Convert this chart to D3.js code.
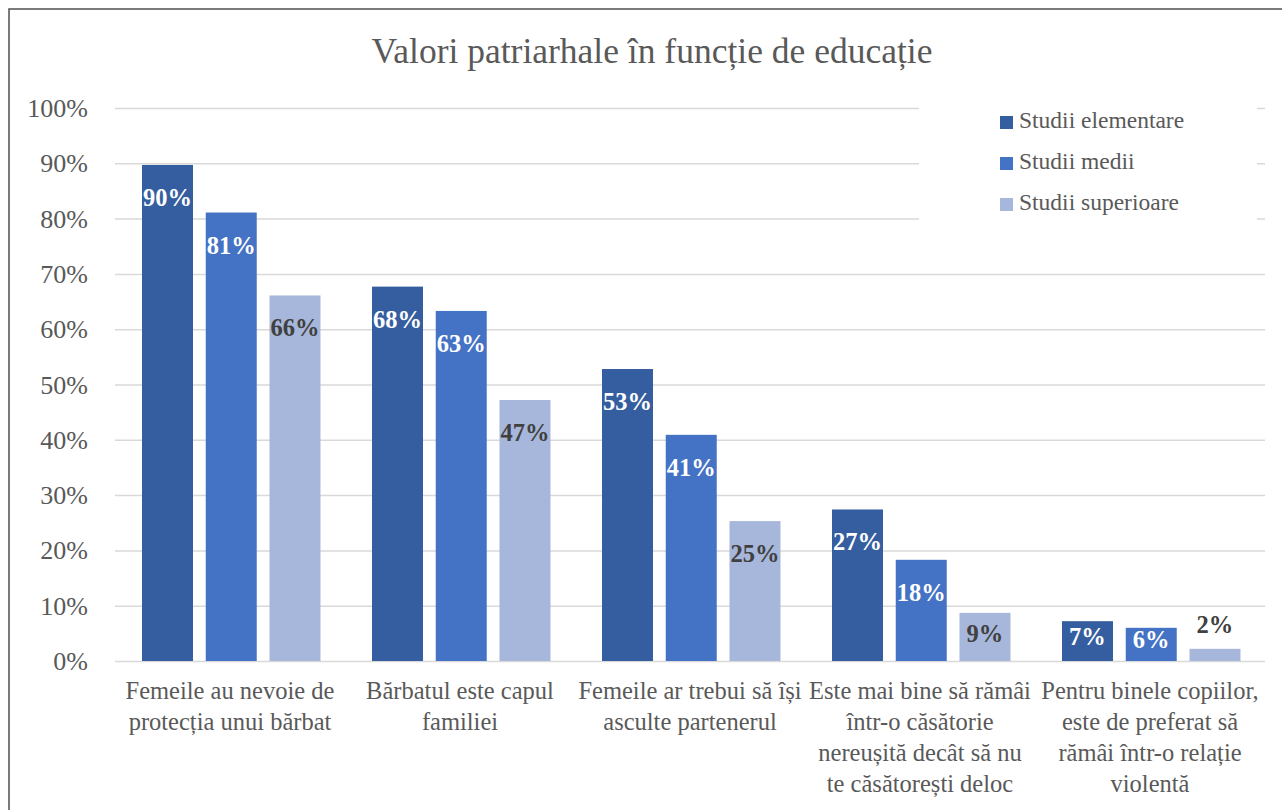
<!DOCTYPE html>
<html>
<head>
<meta charset="utf-8">
<script src="https://cdn.jsdelivr.net/npm/d3@7"></script>
<style>
  html, body { margin: 0; padding: 0; background: #fff; }
  svg { display: block; }
  text { font-family: "Liberation Serif", "Times New Roman", serif; }
</style>
</head>
<body>
<svg id="chart" width="1282" height="810"></svg>
<script>
const title = "Valori patriarhale în funcție de educație";
const categories = [
  "Femeile au nevoie de\nprotecția unui bărbat",
  "Bărbatul este capul\nfamiliei",
  "Femeile ar trebui să își\nasculte partenerul",
  "Este mai bine să rămâi\nîntr-o căsătorie\nnereușită decât să nu\nte căsătorești deloc",
  "Pentru binele copiilor,\neste de preferat să\nrămâi într-o relație\nviolentă"
];
const seriesNames = ["Studii elementare", "Studii medii", "Studii superioare"];
const elementare = [0.897, 0.677, 0.528, 0.274, 0.072];
const medii      = [0.811, 0.633, 0.409, 0.183, 0.060];
const superioare = [0.661, 0.472, 0.253, 0.087, 0.022];
const seriesValues = [elementare, medii, superioare];
const yTicks = [0, 0.1, 0.2, 0.3, 0.4, 0.5, 0.6, 0.7, 0.8, 0.9, 1.0];

const colors = ["#355EA0", "#4472C4", "#A7B6DB"];
const labelColors = ["#ffffff", "#ffffff", "#404040"];
const textGray = "#595959";

const svg = d3.select("#chart");
const M = { left: 115, right: 1265, top: 108, bottom: 661 };

// outer frame (chart area extends beyond the viewport on right/bottom)
svg.append("rect").attr("x", 9).attr("y", 9).attr("width", 1320).attr("height", 900)
  .attr("fill", "#fff").attr("stroke", "#505050").attr("stroke-width", 1.5);

const y = d3.scaleLinear().domain([0, 1]).range([M.bottom, M.top]);
const x0 = d3.scaleBand().domain(categories).range([M.left, M.right]).paddingInner(0).paddingOuter(0);
const bw = x0.bandwidth();
const x1 = d3.scaleBand().domain(seriesNames).range([27, 27 + bw * 0.776]).paddingInner(0.2).paddingOuter(0);

// gridlines + tick labels
const yAxis = d3.axisLeft(y).tickValues(yTicks).tickFormat(d3.format(".0%"))
  .tickSizeInner(-(M.right - M.left)).tickSizeOuter(0).tickPadding(27);
const gy = svg.append("g").attr("transform", `translate(${M.left},0)`).call(yAxis);
gy.select(".domain").remove();
gy.selectAll(".tick line").attr("stroke", "#d9d9d9").attr("stroke-width", 1.5);
gy.selectAll(".tick text").attr("fill", textGray).attr("font-size", 26)
  .attr("font-family", "Liberation Serif, serif").attr("dy", "0.33em");

// title
svg.append("text").attr("x", 652).attr("y", 63).attr("text-anchor", "middle")
  .attr("fill", textGray).attr("font-size", 35.5).text(title);

// legend (white box hides gridlines behind it)
const lg = svg.append("g");
lg.append("rect").attr("x", 919).attr("y", 96).attr("width", 338).attr("height", 128).attr("fill", "#fff");
seriesNames.forEach((s, i) => {
  const yy = 116 + i * 41;
  lg.append("rect").attr("x", 1000).attr("y", yy).attr("width", 13).attr("height", 13).attr("fill", colors[i]);
  lg.append("text").attr("x", 1019).attr("y", yy + 12).attr("fill", textGray)
    .attr("font-size", 23.5).text(s);
});

// bars
const groups = svg.append("g").selectAll("g").data(categories).join("g")
  .attr("transform", d => `translate(${x0(d)},0)`);

seriesNames.forEach((s, si) => {
  groups.append("rect")
    .attr("x", x1(s)).attr("width", x1.bandwidth())
    .attr("y", (d, ci) => y(seriesValues[si][ci]))
    .attr("height", (d, ci) => y(0) - y(seriesValues[si][ci]))
    .attr("fill", colors[si]);
  groups.append("text")
    .attr("x", x1(s) + x1.bandwidth() / 2)
    .attr("y", (d, ci) => {
      const top = y(seriesValues[si][ci]);
      const h = y(0) - top;
      if (h < 20) return top - 16;
      return top + Math.min(41, h * 0.6);
    })
    .attr("text-anchor", "middle")
    .attr("font-weight", "bold").attr("font-size", 24.5)
    .attr("fill", (d, ci) => (y(0) - y(seriesValues[si][ci]) < 20) ? "#404040" : labelColors[si])
    .text((d, ci) => d3.format(".0%")(seriesValues[si][ci]));
});

// category labels
const cl = svg.append("g");
categories.forEach(c => {
  const t = cl.append("text").attr("x", x0(c) + bw / 2).attr("y", 699)
    .attr("text-anchor", "middle").attr("fill", textGray).attr("font-size", 24.5);
  c.split("\n").forEach((line, i) => {
    t.append("tspan").attr("x", x0(c) + bw / 2).attr("dy", i === 0 ? 0 : 31).text(line);
  });
});
</script>
</body>
</html>
